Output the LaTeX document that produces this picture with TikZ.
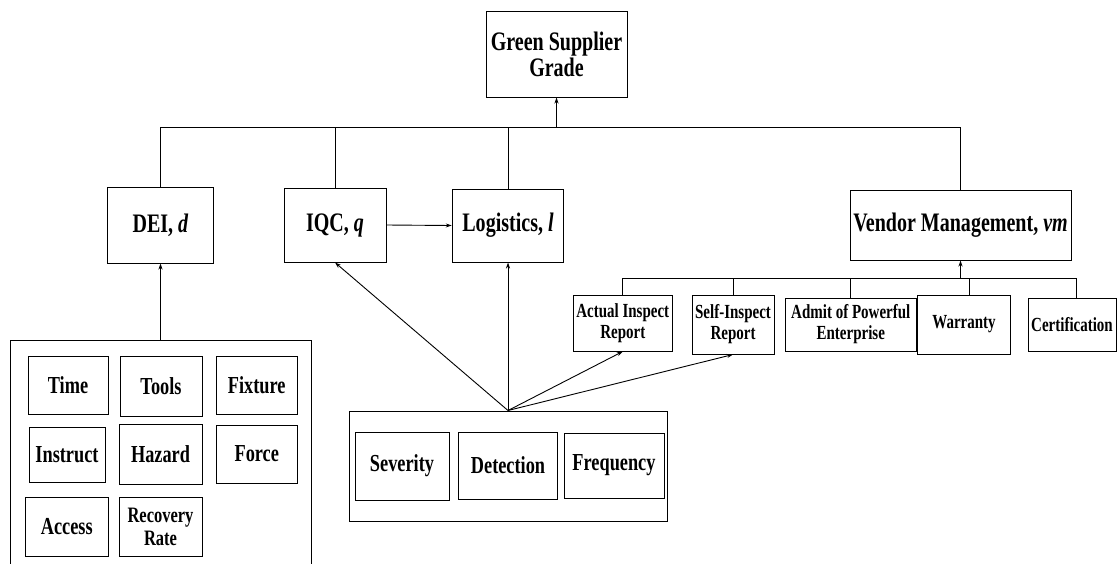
\documentclass[tikz,border=0pt]{standalone}
\usepackage{fontspec}
\setmainfont{Liberation Serif}[FakeStretch=0.75]
\usetikzlibrary{arrows.meta}
\newcommand\szA{\fontsize{26.7}{26}\selectfont}
\newcommand\szB{\fontsize{24.4}{25}\selectfont}
\newcommand\szR{\fontsize{22}{23}\selectfont}
\newcommand\szC{\fontsize{20}{21}\selectfont}
\tikzset{
  box/.style={draw, line width=1pt, inner sep=1pt, align=center, font=\bfseries},
  big/.style={box, font=\bfseries\szA},
  mid/.style={box, font=\bfseries\szB},
  small/.style={box, font=\bfseries\szC},
  cont/.style={draw, line width=1pt, inner sep=0pt},
  link/.style={line width=0.9pt},
  arr/.style={line width=0.9pt, -{Stealth[length=6pt,width=4pt]}},
}
\begin{document}
\begin{tikzpicture}[x=1pt,y=-1pt]
\clip (0,0) rectangle (1117,563);
\useasboundingbox (0,0) rectangle (1117,563);
% top level
\node[big, minimum width=141pt, minimum height=86pt] (gsg) at (556.5,54) {Green Supplier\\Grade};
\node[big, minimum width=106pt, minimum height=76pt] (dei) at (160.5,225) {DEI, \textit{d}};
\node[big, minimum width=102pt, minimum height=74pt] (iqc) at (335,225) {IQC, \textit{q}};
\node[big, minimum width=111.5pt, minimum height=73pt] (log) at (508,225.5) {Logistics, \textit{l}};
\node[big, minimum width=221pt, minimum height=70pt] (vm) at (960.5,225) {Vendor Management, \textit{vm}};
\coordinate (bus) at (0,127);
\draw[link] (dei.north) -- (dei.north |- bus) -- (vm.north |- bus) -- (vm.north);
\draw[link] (iqc.north) -- (iqc.north |- bus);
\draw[link] (log.north) -- (log.north |- bus);
\draw[arr] (gsg.south |- bus) -- (gsg.south);
\draw[arr] (iqc.east) -- (log.west);
% vendor management children
\node[small, minimum width=99.5pt, minimum height=56pt] (air) at (622.75,323) {Actual Inspect\\Report};
\node[small, minimum width=82pt, minimum height=59pt] (sir) at (733,324.5) {Self-Inspect\\Report};
\node[small, minimum width=130.5pt, minimum height=53pt] (ape) at (850.75,324.5) {Admit of Powerful\\Enterprise};
\node[small, minimum width=92.5pt, minimum height=59pt] (war) at (964,324.5) {Warranty};
\node[small, minimum width=88pt, minimum height=53pt] (cer) at (1072,324.5) {Certification};
\coordinate (sbus) at (0,278);
\coordinate (wtop) at (969,295);
\coordinate (ctop) at (1076,298);
\draw[link] (air.north) -- (air.north |- sbus) -- (ctop |- sbus) -- (ctop);
\draw[link] (sir.north) -- (sir.north |- sbus);
\draw[link] (ape.north) -- (ape.north |- sbus);
\draw[link] (wtop) -- (wtop |- sbus);
\draw[arr] (vm.south |- sbus) -- (vm.south);
% DEI container
\node[cont, minimum width=301pt, minimum height=260pt] (deic) at (160.5,470) {};
\node[mid, minimum width=80pt, minimum height=58pt] (time) at (68,385) {Time};
\node[mid, minimum width=82pt, minimum height=60pt] (tools) at (161,386) {Tools};
\node[mid, minimum width=80.5pt, minimum height=58pt] (fix) at (256.75,385) {Fixture};
\node[mid, minimum width=76pt, minimum height=55pt] (ins) at (67,454.5) {Instruct};
\node[mid, minimum width=83pt, minimum height=60pt] (haz) at (160.5,454) {Hazard};
\node[mid, minimum width=80.5pt, minimum height=58pt] (force) at (256.75,454) {Force};
\node[mid, minimum width=83.5pt, minimum height=59pt] (acc) at (66.75,526.5) {Access};
\node[box, font=\bfseries\szR, minimum width=83pt, minimum height=59pt] (rec) at (160.5,526.5) {Recovery\\Rate};
\draw[arr] (deic.north) -- (dei.south);
% FMEA container
\node[cont, minimum width=318pt, minimum height=110pt] (fmea) at (508,466) {};
\node[mid, minimum width=94pt, minimum height=68pt] (sev) at (402,466) {Severity};
\node[mid, minimum width=99pt, minimum height=67pt] (det) at (508,465.5) {Detection};
\node[mid, minimum width=100pt, minimum height=65pt] (fre) at (614,465.5) {Frequency};
\draw[arr] (fmea.north) -- (iqc.south);
\draw[arr] (fmea.north) -- (log.south);
\draw[arr] (fmea.north) -- (air.south);
\draw[arr] (fmea.north) -- (sir.south);
\end{tikzpicture}
\end{document}
